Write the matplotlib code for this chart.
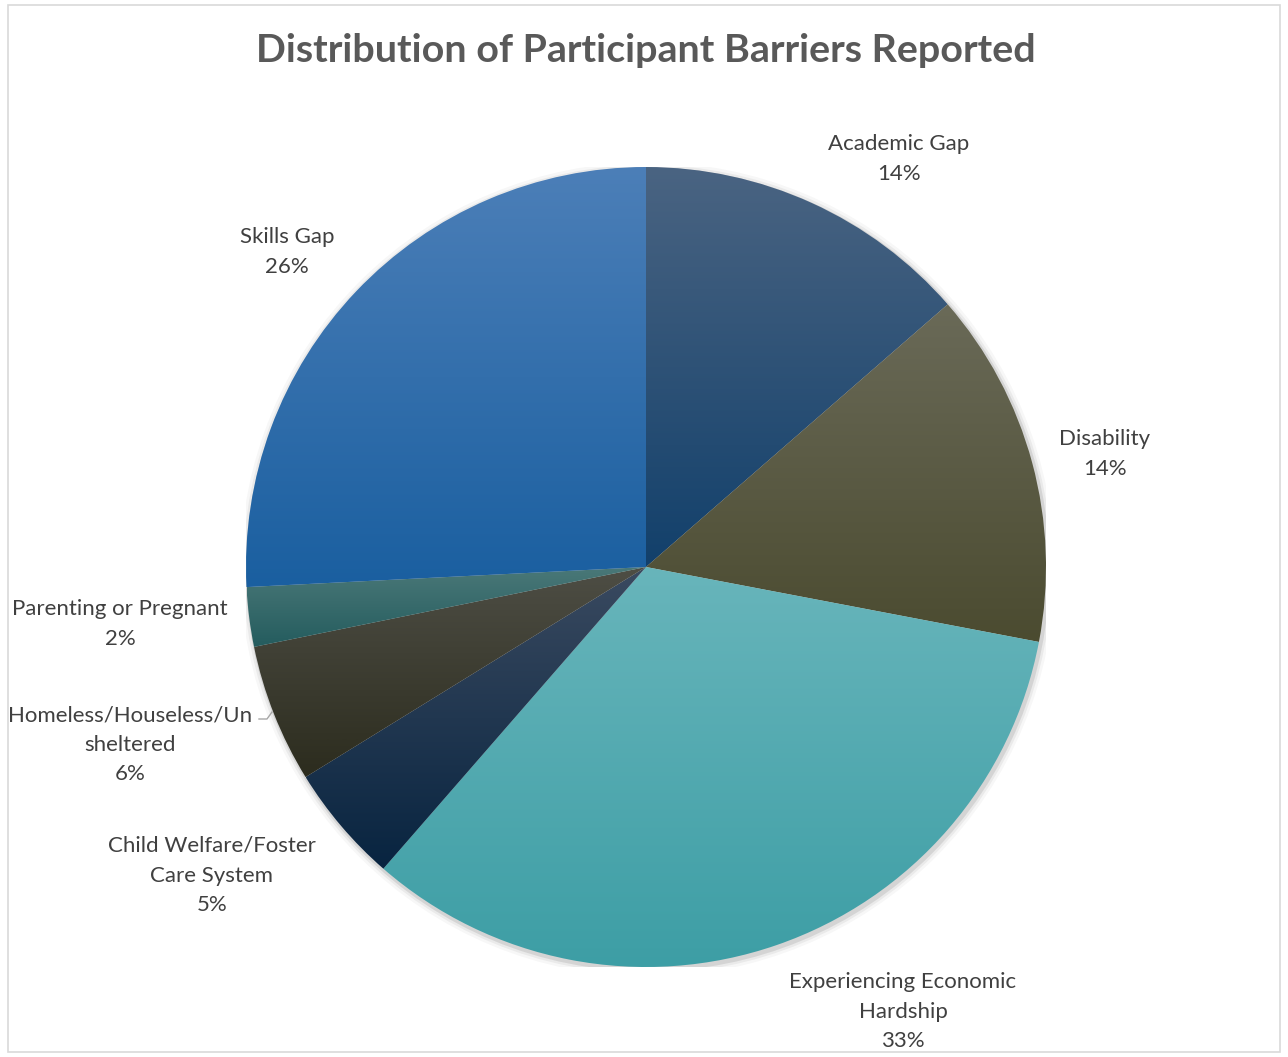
import numpy as np
import matplotlib
matplotlib.use('Agg')
import matplotlib.pyplot as plt
from matplotlib.colors import LinearSegmentedColormap
from matplotlib.patches import Circle, Rectangle
from matplotlib.lines import Line2D

# Данные диаграммы
categories = ['Academic Gap', 'Disability', 'Experiencing Economic\nHardship',
              'Child Welfare/Foster\nCare System', 'Homeless/Houseless/Un\nsheltered',
              'Parenting or Pregnant', 'Skills Gap']
values = [13.6, 14.4, 33.4, 4.8, 5.6, 2.4, 25.8]
# Цвета градиента (верх, низ)
top_colors = ['#4a6482', '#6a6a58', '#68b5bb', '#3a4a60', '#4e4e45', '#4a7878', '#4c7fb8']
bottom_colors = ['#12406b', '#4b4b30', '#3d9ea5', '#082440', '#2c2c1e', '#245c5e', '#1a5fa0']

W, H = 1288, 1057
fig = plt.figure(figsize=(W / 100, H / 100), dpi=100)
plt.rcParams['font.family'] = ['Lato', 'DejaVu Sans']


def px(x, y):
    return x / W, 1 - y / H


# рамка области диаграммы
fig.patches.append(Rectangle(px(8, 1052), 1272 / W, 1047 / H, transform=fig.transFigure,
                             fill=False, edgecolor='#d9d9d9', lw=1.2))

cx, cy, r = 646, 567, 400
ax = fig.add_axes([(cx - r) / W, (H - cy - r) / H, 2 * r / W, 2 * r / H])

# мягкая тень
for k, a in [(1.018, 0.03), (1.011, 0.05), (1.005, 0.09)]:
    ax.add_patch(Circle((0.004, -0.006), k, color='black', alpha=a, lw=0, zorder=0))

wedges, _ = ax.pie(values, startangle=90, counterclock=False, radius=1,
                   wedgeprops=dict(facecolor='none', edgecolor='none'))

grad = np.linspace(0, 1, 256).reshape(-1, 1)
for w, c1, c2 in zip(wedges, top_colors, bottom_colors):
    ext = w.get_path().get_extents()
    cmap = LinearSegmentedColormap.from_list('g', [c2, c1])
    im = ax.imshow(grad, cmap=cmap, origin='lower', aspect='auto',
                   extent=[ext.x0, ext.x1, ext.y0, ext.y1], zorder=1)
    im.set_clip_path(w)

ax.set_xlim(-1, 1)
ax.set_ylim(-1, 1)
ax.axis('off')

total = sum(values)
label_pos = [(899, 143), (1105, 438), (903, 981), (212, 845), (130, 714), (120, 608), (287, 236)]
for name, v, (lx, ly) in zip(categories, values, label_pos):
    txt = name + '\n' + f'{round(v / total * 100)}%'
    fig.text(*px(lx, ly - 9), txt, ha='center', va='top', fontsize=16,
             color='#404040', linespacing=1.6)

# выноска для Homeless
fig.lines.append(Line2D([259 / W, 267 / W, 272 / W], [1 - 719 / H, 1 - 719 / H, 1 - 712 / H],
                        transform=fig.transFigure, color='#a6a6a6', lw=1))

fig.text(*px(646, 50), 'Distribution of Participant Barriers Reported', ha='center', va='center',
         fontsize=28.4, fontweight='bold', color='#595959')

plt.savefig('out.png', dpi=100)
